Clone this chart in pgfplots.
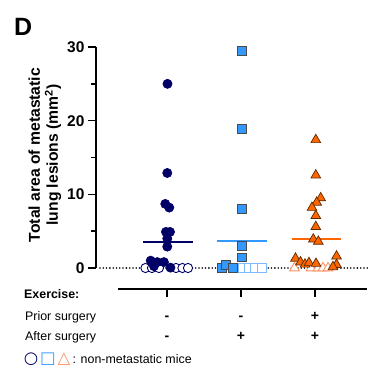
\documentclass[border=0pt]{standalone}
\usepackage{fontspec}
\setmainfont{Liberation Sans}
\newfontfamily\dejavu{DejaVu Sans}
\usepackage{pgfplots}
\pgfplotsset{compat=1.18}
\definecolor{navy}{HTML}{000066}
\definecolor{bl}{HTML}{3399FF}
\definecolor{lbl}{HTML}{7DBDFF}
\definecolor{orn}{HTML}{FF6600}
\definecolor{lorn}{HTML}{FF9060}
\definecolor{edg}{HTML}{4A4A4A}
\definecolor{oedg}{HTML}{5A2A00}
\begin{document}
\begin{tikzpicture}
\useasboundingbox (-96pt,-113pt) rectangle (278pt,268pt);
\begin{axis}[
  scale only axis, width=274.5pt, height=221pt,
  xmin=-0.959, xmax=2.75, ymin=0, ymax=30,
  axis x line=none, axis y line*=left,
  ytick={0,10,20,30}, minor ytick={5,15,25},
  tick align=outside, major tick length=8pt, minor tick length=4.5pt,
  tick style={black, line width=1.6pt},
  minor tick style={black, line width=1.6pt},
  y axis line style={line width=1.8pt},
  yticklabel style={font=\fontsize{15.5}{16}\selectfont\bfseries},
  /pgf/number format/assume math mode=true,
  ylabel={Total area of metastatic\\lung lesions (mm\textsuperscript{2})},
  ylabel style={align=center, font=\fontsize{15.7}{18}\selectfont\bfseries,
    at={(axis description cs:-0.186,0.511)}, anchor=center},
  clip=false,
]
% mean lines
\addplot[navy, line width=2pt] coordinates {(-0.32,3.5) (0.35,3.5)};
\addplot[bl, line width=2pt] coordinates {(0.676,3.6) (1.347,3.6)};
\addplot[orn, line width=2pt] coordinates {(1.689,3.9) (2.347,3.9)};
% dotted zero line
\addplot[black, line width=1.8pt, line cap=round, dash pattern=on 0pt off 3.3pt] coordinates {(-0.905,0) (2.743,0)};
% open markers (non-metastatic)
\addplot[only marks, mark=*, mark size=4.6pt, mark options={draw=navy, fill=white, line width=0.9pt}] coordinates {
(-0.291,0) (-0.203,0) (-0.108,0) (0.122,0) (0.209,0) (0.284,0)};
\addplot[only marks, mark=square*, mark size=4.4pt, mark options={draw=lbl, fill=white, line width=0.9pt}] coordinates {
(0.946,0) (1.027,0) (1.108,0) (1.189,0) (1.284,0)};
\addplot[only marks, mark=triangle*, mark size=5.6pt, mark options={draw=lorn, fill=white, line width=0.9pt}] coordinates {
(1.723,0) (1.946,0) (2.041,0) (2.108,0) (2.176,0)};
% filled markers
\addplot[only marks, mark=*, mark size=4.6pt, mark options={draw=navy, fill=navy, line width=0.6pt}] coordinates {
(0.007,25.0) (0.004,12.9) (-0.023,8.7) (0.031,8.2) (-0.014,4.9) (0.041,4.9)
(0.004,4.0) (0.004,2.9) (-0.220,1.0) (-0.131,0.8) (-0.041,0.8) (-0.176,0.25) (0.047,0.05)};
\addplot[only marks, mark=square*, mark size=4.4pt, mark options={draw=edg, fill=bl, line width=0.7pt}] coordinates {
(1.014,29.5) (1.014,18.9) (1.014,8.0) (1.014,3.0) (1.014,1.45)
(0.737,0.05) (0.797,0.4) (0.885,0.05)};
\addplot[only marks, mark=triangle*, mark size=5.6pt, mark options={draw=oedg, fill=orn, line width=0.7pt}] coordinates {
(2.011,17.4) (2.011,12.6) (2.077,9.5) (2.023,8.9) (1.959,8.2) (2.011,7.1) (2.011,5.6)
(1.977,3.9) (2.045,3.6) (1.736,1.3) (1.804,0.8) (1.865,0.5) (1.919,0.7) (2.014,0.6)
(2.291,1.6) (2.291,0.45) (2.243,0.15)};
\end{axis}
% panel letter
\node[anchor=base west, inner sep=0pt, font=\fontsize{25}{25}\selectfont\bfseries] at (-82pt,233pt) {D};
% lower axis
\draw[line width=1.8pt] (22pt,-21.3pt) -- (270.7pt,-21.3pt);
\foreach \x in {71,145,219} \draw[line width=1.6pt] (\x pt,-21.3pt) -- (\x pt,-28.7pt);
% table text
\node[anchor=base west, inner sep=0pt, font=\fontsize{12.4}{14}\selectfont\bfseries] at (-72pt,-30.5pt) {Exercise:};
\node[anchor=base west, inner sep=0pt, font=\fontsize{12.4}{14}\selectfont] at (-71pt,-52pt) {Prior surgery};
\node[anchor=base west, inner sep=0pt, font=\fontsize{12.4}{14}\selectfont] at (-71pt,-72pt) {After surgery};
\node[anchor=base, inner sep=0pt, font=\fontsize{14}{14}\selectfont\bfseries] at (71pt,-52pt) {-};
\node[anchor=base, inner sep=0pt, font=\fontsize{14}{14}\selectfont\bfseries] at (145pt,-52pt) {-};
\node[anchor=base, inner sep=0pt, font=\fontsize{14}{14}\selectfont\bfseries] at (219pt,-52pt) {+};
\node[anchor=base, inner sep=0pt, font=\fontsize{14}{14}\selectfont\bfseries] at (71pt,-72pt) {-};
\node[anchor=base, inner sep=0pt, font=\fontsize{14}{14}\selectfont\bfseries] at (145pt,-72pt) {+};
\node[anchor=base, inner sep=0pt, font=\fontsize{14}{14}\selectfont\bfseries] at (219pt,-72pt) {+};
% legend note
\node[inner sep=0pt, text=navy, font=\fontsize{16.5}{16}\selectfont\dejavu] at (-65pt,-91pt) {○};
\node[inner sep=0pt, text=bl, font=\fontsize{16.5}{16}\selectfont\dejavu] at (-48pt,-91pt) {□};
\node[inner sep=0pt, text=lorn, font=\fontsize{16.5}{16}\selectfont\dejavu] at (-32pt,-91pt) {△};
\node[anchor=base west, inner sep=0pt, font=\fontsize{12.4}{14}\selectfont] at (-23.5pt,-95pt) {: non-metastatic mice};
\end{tikzpicture}
\end{document}
